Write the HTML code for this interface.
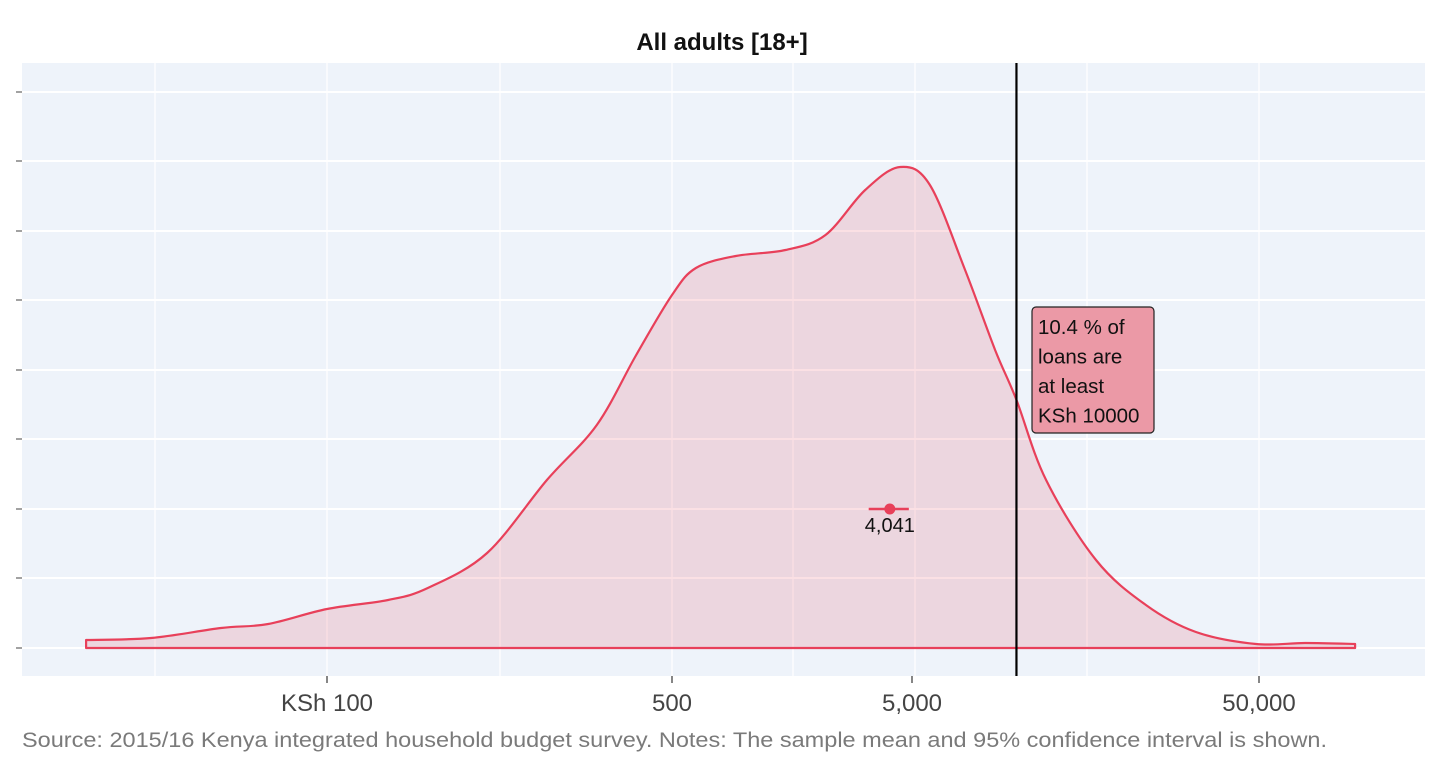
<!DOCTYPE html>
<html><head><meta charset="utf-8"><style>
body{margin:0;background:#fff;font-family:"Liberation Sans",sans-serif}
svg{display:block}
</style></head><body>
<svg id="chart" width="1440" height="768">
<text x="722" y="50" text-anchor="middle" font-size="24" font-weight="bold" fill="#111">All adults [18+]</text>
<rect x="22" y="63" width="1403" height="613" fill="#eef3fa"/>
<g id="grid"></g>
<g id="marks"></g>
<text x="22" y="747" font-size="21.5" fill="#7a7a7a" textLength="1305" lengthAdjust="spacingAndGlyphs">Source: 2015/16 Kenya integrated household budget survey. Notes: The sample mean and 95% confidence interval is shown.</text>
</svg>
<script>
const densX=[32.5,44,61,76,100,133,160,211,279,352,423,500,629,922,1486,2180,3190,4460,5630,7110,8680,10000,12170,16950,23600,32900,49000,67900,94600];
const densY=[0.008,0.010,0.020,0.024,0.039,0.048,0.060,0.095,0.168,0.223,0.293,0.353,0.380,0.392,0.398,0.413,0.458,0.481,0.463,0.378,0.298,0.248,0.168,0.088,0.043,0.016,0.004,0.005,0.004];
const tickVals=[100,500,5000,50000];
const tickLabels=["KSh 100","500","5,000","50,000"];
const meanVal=[4041];
const ciVals=[3300,4850];
const thresholdVal=[10000];
const yGridVals=[0,0.07,0.139,0.209,0.278,0.348,0.417,0.487,0.556];

const ns="http://www.w3.org/2000/svg";
const anchors=[[2,327],[Math.log10(500),672],[Math.log10(5000),912],[Math.log10(50000),1259]];
function xs(v){
  const l=Math.log10(v);
  let i=0;
  if(l<=anchors[0][0]) i=0; else if(l>=anchors[3][0]) i=2;
  else {for(i=0;i<2;i++) if(l<=anchors[i+1][0]) break;}
  const a=anchors[i],b=anchors[i+1];
  return a[1]+(l-a[0])*(b[1]-a[1])/(b[0]-a[0]);
}
function ys(d){return 648-d*1000;}
function mk(tag,attrs,parent){const e=document.createElementNS(ns,tag);for(const k in attrs)e.setAttribute(k,attrs[k]);parent.appendChild(e);return e;}
const grid=document.getElementById('grid'),marks=document.getElementById('marks');
[155,327,500,672,793,915,1087,1259].forEach(function(x){
  const l=mk('line',{x1:x,x2:x,y1:63,y2:676,stroke:'#fff','stroke-width':1.3},grid);
  
  
});
yGridVals.forEach(function(v){
  const y=ys(v);
  const l=mk('line',{x1:22,x2:1425,y1:y,y2:y,stroke:'#fff','stroke-width':2},grid);
  
  
});
const P=densX.map(function(v,i){return [xs(v),ys(densY[i])];});
let d='M'+P[0][0].toFixed(1)+','+ys(0)+' L'+P[0][0].toFixed(1)+','+P[0][1].toFixed(1);
for(let i=0;i<P.length-1;i++){
  const p0=P[Math.max(i-1,0)],p1=P[i],p2=P[i+1],p3=P[Math.min(i+2,P.length-1)];
  const c1=[p1[0]+(p2[0]-p0[0])/6,p1[1]+(p2[1]-p0[1])/6];
  const c2=[p2[0]-(p3[0]-p1[0])/6,p2[1]-(p3[1]-p1[1])/6];
  d+=' C'+c1[0].toFixed(1)+','+c1[1].toFixed(1)+' '+c2[0].toFixed(1)+','+c2[1].toFixed(1)+' '+p2[0].toFixed(1)+','+p2[1].toFixed(1);
}
d+=' L'+P[P.length-1][0].toFixed(1)+','+ys(0)+' Z';
const poly=mk('path',{d:d,fill:'rgba(232,64,90,0.16)',stroke:'#e8405a','stroke-width':2.2,'stroke-linejoin':'round'},marks);


const tx=xs(thresholdVal[0]);
const tl=mk('line',{x1:tx,x2:tx,y1:63,y2:676,stroke:'#000','stroke-width':2.2},marks);


const ci=mk('line',{x1:xs(ciVals[0]),x2:xs(ciVals[1]),y1:509,y2:509,stroke:'#e8405a','stroke-width':2.5},marks);


const mx=xs(meanVal[0]);
const mp=mk('circle',{cx:mx,cy:509,r:5.5,fill:'#e8405a'},marks);


const ml=mk('text',{x:mx,y:532,'text-anchor':'middle','font-size':20,fill:'#111'},marks);
ml.textContent='4,041';


const ab=mk('rect',{x:1032,y:307,width:122,height:126,rx:4,fill:'#eb99a6',stroke:'#222','stroke-width':1.2},marks);


["10.4 % of","loans are","at least","KSh 10000"].forEach(function(s,i){
  const t=mk('text',{x:1038,y:334+i*29.5,'font-size':20.5,fill:'#111'},marks);
  t.textContent=s;
  
  
});
yGridVals.forEach(function(v){
  const t=mk('line',{x1:16,x2:22,y1:ys(v),y2:ys(v),stroke:'#444','stroke-width':1},marks);
  
  
});
tickVals.forEach(function(v,i){
  const x=xs(v);
  const t=mk('line',{x1:x,x2:x,y1:676,y2:683,stroke:'#444','stroke-width':1.3},marks);
  
  
  const lb=mk('text',{x:x,y:711,'text-anchor':'middle','font-size':24,fill:'#444'},marks);
  lb.textContent=tickLabels[i];
  
  
});
</script>
</body></html>
